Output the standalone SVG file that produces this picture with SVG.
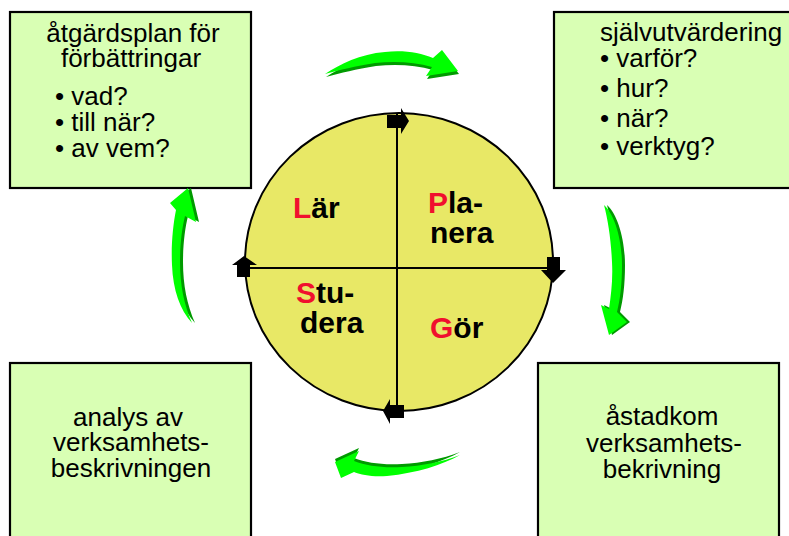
<svg xmlns="http://www.w3.org/2000/svg" width="789" height="536" viewBox="0 0 789 536">
<style>
.box{fill:#D9FFB4;stroke:#000;stroke-width:2.2}
.t{font-family:"Liberation Sans",Arial,sans-serif;font-size:26px;fill:#000}
.c{text-anchor:middle}
.b{font-family:"Liberation Sans",Arial,sans-serif;font-size:30px;font-weight:bold;fill:#000}
.r{fill:#F0102E}
.ga{fill:#00FF00}
.gs{fill:#009A00}
.ax{fill:#000}
</style>
<rect width="789" height="536" fill="#fff"/>

<g id="box-atgardsplan">
<rect class="box" x="10" y="12" width="241" height="176"/>
<text class="t c" x="133" y="42">åtgärdsplan  för</text>
<text class="t c" x="131" y="67">förbättringar</text>
<text class="t" x="55" y="105">• vad?</text>
<text class="t" x="55" y="131">• till när?</text>
<text class="t" x="55" y="157">• av vem?</text>
</g>

<g id="box-sjalvutvardering">
<rect class="box" x="554" y="12" width="250" height="176"/>
<text class="t" x="600" y="41">självutvärdering</text>
<text class="t" x="600" y="67">• varför?</text>
<text class="t" x="600" y="97">• hur?</text>
<text class="t" x="600" y="127">• när?</text>
<text class="t" x="600" y="155">• verktyg?</text>
</g>

<g id="box-analys">
<rect class="box" x="10" y="363" width="241" height="200"/>
<text class="t c" x="128" y="426">analys av</text>
<text class="t c" x="131" y="451">verksamhets-</text>
<text class="t c" x="131" y="477">beskrivningen</text>
</g>

<g id="box-astadkom">
<rect class="box" x="538" y="363" width="241" height="200"/>
<text class="t c" x="662" y="425">åstadkom</text>
<text class="t c" x="664" y="452">verksamhets-</text>
<text class="t c" x="662" y="478">bekrivning</text>
</g>

<g id="cycle">
<ellipse cx="399" cy="262" rx="154" ry="149" fill="#E8E866" stroke="#000" stroke-width="2"/>
<text class="b" x="293" y="218"><tspan class="r">L</tspan>är</text>
<text class="b" x="428" y="213"><tspan class="r">P</tspan>la-</text>
<text class="b" x="430" y="243">nera</text>
<text class="b" x="296" y="303"><tspan class="r">S</tspan>tu-</text>
<text class="b" x="300" y="333">dera</text>
<text class="b" x="430" y="338"><tspan class="r">G</tspan>ör</text>
</g>

<g id="connectors">
<line x1="397" y1="113" x2="397" y2="411" stroke="#000" stroke-width="2"/>
<line x1="245" y1="268" x2="553" y2="268" stroke="#000" stroke-width="2"/>
<path class="ax" d="M387,115 H401 V108 L409,121 L401,134 V128 H387 Z"/>
<path class="ax" d="M547,257 H560 V270 H566 L553,283 L541,270 H547 Z"/>
<path class="ax" d="M237,277 H250 V265 H257 L244,256 L232,265 H237 Z"/>
<path class="ax" d="M404,405 V418 H390 V424 L383,411 L390,399 V405 Z"/>

<g id="arrow-top">
<path class="gs" transform="translate(1,3)" d="M325,74 C340,64 360,54 385,52 C405,50 420,53 433,58 L442,50 L458,71 L426,76 L432,67 C415,62 395,61 375,63 C355,66 340,70 325,74 Z"/>
<path class="ga" d="M325,74 C340,64 360,54 385,52 C405,50 420,53 433,58 L442,50 L458,71 L426,76 L432,67 C415,62 395,61 375,63 C355,66 340,70 325,74 Z"/>
</g>
<g id="arrow-right">
<path class="gs" transform="translate(3,0)" d="M604,205 C615,215 622,240 622,265 C622,285 620,300 617,312 L627,322 L609,335 L601,305 L609,309 C611,295 613,280 612,262 C611,240 608,220 604,205 Z"/>
<path class="ga" d="M604,205 C615,215 622,240 622,265 C622,285 620,300 617,312 L627,322 L609,335 L601,305 L609,309 C611,295 613,280 612,262 C611,240 608,220 604,205 Z"/>
</g>
<g id="arrow-bottom">
<path class="gs" transform="translate(0,-3)" d="M460,455 C442,465 417,473 387,476 C372,477 362,475 354,472 L341,478 L335,462 L359,451 L354,461 C367,466 382,468 402,467 C422,466 442,462 460,455 Z"/>
<path class="ga" d="M460,455 C442,465 417,473 387,476 C372,477 362,475 354,472 L341,478 L335,462 L359,451 L354,461 C367,466 382,468 402,467 C422,466 442,462 460,455 Z"/>
</g>
<g id="arrow-left">
<path class="gs" transform="translate(3,0)" d="M192,323 C184,305 180,285 180,262 C180,245 182,228 185,216 L196,222 L188,188 L170,203 L176,210 C173,225 171,245 172,265 C173,290 180,310 192,323 Z"/>
<path class="ga" d="M192,323 C184,305 180,285 180,262 C180,245 182,228 185,216 L196,222 L188,188 L170,203 L176,210 C173,225 171,245 172,265 C173,290 180,310 192,323 Z"/>
</g>
</g>
</svg>
